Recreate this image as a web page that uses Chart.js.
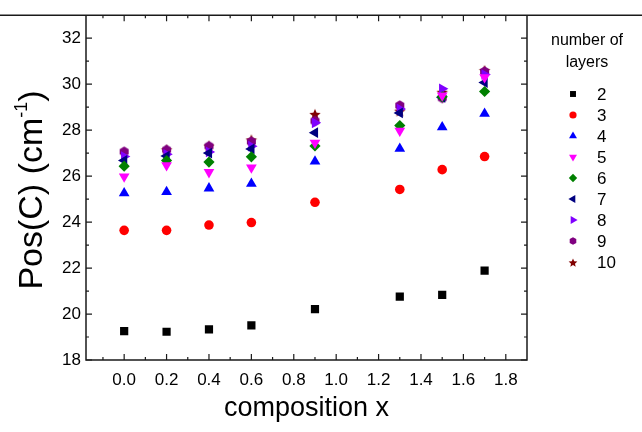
<!DOCTYPE html>
<html>
<head>
<meta charset="utf-8">
<script src="https://cdn.jsdelivr.net/npm/chart.js"></script>
<style>
  html, body { margin: 0; padding: 0; background: #fff; }
</style>
</head>
<body>
<canvas id="chart" width="642" height="432"></canvas>
<script>
// composition x of each measured sample
const compositionX = [0.0, 0.2, 0.4, 0.6, 0.9, 1.3, 1.5, 1.7];

// Pos(C) values (cm-1), one array per number of layers
const layers2 = [19.26, 19.23, 19.33, 19.51, 20.21, 20.76, 20.83, 21.89];
const layers3 = [23.64, 23.64, 23.87, 23.98, 24.86, 25.42, 26.28, 26.85];
const layers4 = [25.26, 25.31, 25.47, 25.67, 26.64, 27.19, 28.13, 28.72];
const layers5 = [25.98, 26.47, 26.17, 26.37, 27.45, 27.97, 29.5, 30.3];
const layers6 = [26.43, 26.68, 26.61, 26.84, 27.31, 28.2, 29.45, 29.68];
const layers7 = [26.68, 26.87, 27.0, 27.18, 27.89, 28.75, 29.42, 30.07];
const layers8 = [26.85, 26.95, 27.05, 27.3, 28.32, 28.92, 29.8, 30.42];
const layers9 = [27.06, 27.14, 27.3, 27.5, 28.4, 29.07, 29.4, 30.55];
const layers10 = [null, 27.17, 27.33, 27.6, 28.71, 28.85, 29.67, 30.62];

const layerNames = ['2', '3', '4', '5', '6', '7', '8', '9', '10'];
const layerValues = [layers2, layers3, layers4, layers5, layers6, layers7, layers8, layers9, layers10];

const FONT = '"Liberation Sans", Arial, sans-serif';

// hexagon and filled star do not exist as point styles, make little images
const makeHexagon = (color, r) => {
  const c = document.createElement('canvas');
  c.width = c.height = Math.ceil(2 * r + 2);
  const g = c.getContext('2d');
  g.fillStyle = color;
  g.beginPath();
  for (let i = 0; i < 6; i++) {
    const a = Math.PI / 6 + i * Math.PI / 3;
    g.lineTo(c.width / 2 + r * Math.cos(a), c.height / 2 + r * Math.sin(a));
  }
  g.closePath();
  g.fill();
  return c;
}

const makeStar = (color, r) => {
  const c = document.createElement('canvas');
  c.width = c.height = Math.ceil(2 * r + 2);
  const g = c.getContext('2d');
  g.fillStyle = color;
  g.beginPath();
  for (let i = 0; i < 10; i++) {
    const rr = i % 2 === 0 ? r : r * 0.45;
    const a = -Math.PI / 2 + i * Math.PI / 5;
    g.lineTo(c.width / 2 + rr * Math.cos(a), c.height / 2 + 1 + rr * Math.sin(a));
  }
  g.closePath();
  g.fill();
  return c;
}

const styles = [
  { color: '#000000', pointStyle: 'rect', rotation: 0, radius: 5.8 },
  { color: '#ff0000', pointStyle: 'circle', rotation: 0, radius: 4.8 },
  { color: '#0000ff', pointStyle: 'triangle', rotation: 0, radius: 6.2 },
  { color: '#ff00ff', pointStyle: 'triangle', rotation: 180, radius: 6.2 },
  { color: '#008000', pointStyle: 'rectRot', rotation: 0, radius: 5.6 },
  { color: '#000080', pointStyle: 'triangle', rotation: -90, radius: 6.2 },
  { color: '#8000ff', pointStyle: 'triangle', rotation: 90, radius: 6.2 },
  { color: '#800080', pointStyle: makeHexagon('#800080', 5.2), rotation: 0, radius: 5.2 },
  { color: '#800000', pointStyle: makeStar('#800000', 6), rotation: 0, radius: 6 }
];
const legendStyles = [
  { pointStyle: 'rect', radius: 4.2 },
  { pointStyle: 'circle', radius: 3.6 },
  { pointStyle: 'triangle', radius: 4.6 },
  { pointStyle: 'triangle', radius: 4.6 },
  { pointStyle: 'rectRot', radius: 4.2 },
  { pointStyle: 'triangle', radius: 4.6 },
  { pointStyle: 'triangle', radius: 4.6 },
  { pointStyle: makeHexagon('#800080', 3.8), radius: 3.8 },
  { pointStyle: makeStar('#800000', 4.6), radius: 4.6 }
];

const datasets = layerValues.map((vals, i) => ({
  label: layerNames[i],
  data: compositionX.map((x, j) => ({ x: x, y: vals[j] })).filter(p => p.y !== null),
  backgroundColor: styles[i].color,
  borderColor: styles[i].color,
  borderWidth: 0,
  pointStyle: styles[i].pointStyle,
  pointRotation: styles[i].rotation,
  pointRadius: styles[i].radius,
  pointHoverRadius: styles[i].radius,
  showLine: false
}));

// frame, inward ticks, axis titles and legend
const decorations = {
  id: 'decorations',
  afterDraw(chart) {
    const ctx = chart.ctx;
    const a = chart.chartArea;
    const xs = chart.scales.x;
    const ys = chart.scales.y;
    ctx.save();
    ctx.strokeStyle = '#1a1a1a';
    ctx.lineWidth = 1.5;
    ctx.beginPath();
    ctx.moveTo(0, a.top);
    ctx.lineTo(642, a.top);
    ctx.moveTo(a.left, a.top);
    ctx.lineTo(a.left, a.bottom);
    ctx.lineTo(a.right, a.bottom);
    ctx.lineTo(a.right, a.top);
    ctx.stroke();

    ctx.lineWidth = 1.2;
    ctx.beginPath();
    const xMajor = xs.ticks.map(t => t.value);
    const xMinor = [];
    xMajor.forEach(v => [v - 0.1, v + 0.1].forEach(m => {
      if (m > xs.min && m < xs.max && !xMinor.some(o => Math.abs(o - m) < 1e-6)) xMinor.push(m);
    }));
    xMajor.forEach(v => {
      const p = xs.getPixelForValue(v);
      ctx.moveTo(p, a.bottom); ctx.lineTo(p, a.bottom - 6);
      ctx.moveTo(p, a.top); ctx.lineTo(p, a.top + 6);
    });
    xMinor.forEach(v => {
      const p = xs.getPixelForValue(v);
      ctx.moveTo(p, a.bottom); ctx.lineTo(p, a.bottom - 3);
      ctx.moveTo(p, a.top); ctx.lineTo(p, a.top + 3);
    });
    const yMajor = ys.ticks.map(t => t.value);
    const yMinor = [];
    yMajor.forEach(v => [v - 1, v + 1].forEach(m => {
      if (m > ys.min && m < ys.max && !yMinor.includes(m)) yMinor.push(m);
    }));
    yMajor.forEach(v => {
      const p = ys.getPixelForValue(v);
      ctx.moveTo(a.left, p); ctx.lineTo(a.left + 6, p);
      ctx.moveTo(a.right, p); ctx.lineTo(a.right - 6, p);
    });
    yMinor.forEach(v => {
      const p = ys.getPixelForValue(v);
      ctx.moveTo(a.left, p); ctx.lineTo(a.left + 3, p);
      ctx.moveTo(a.right, p); ctx.lineTo(a.right - 3, p);
    });
    ctx.stroke();

    ctx.fillStyle = '#000';
    // x title
    ctx.font = '27px ' + FONT;
    ctx.textAlign = 'center';
    ctx.textBaseline = 'middle';
    ctx.fillText('composition x', (a.left + a.right) / 2, 409);

    // y title with superscript
    ctx.save();
    ctx.translate(33, 190);
    ctx.rotate(-Math.PI / 2);
    ctx.textAlign = 'left';
    ctx.textBaseline = 'middle';
    const big = '34px ' + FONT;
    const small = '18px ' + FONT;
    ctx.font = big;
    const w1 = ctx.measureText('Pos(C) (cm').width;
    const w3 = ctx.measureText(')').width;
    ctx.font = small;
    const w2 = ctx.measureText('-1').width;
    let x0 = -(w1 + w2 + w3) / 2;
    ctx.font = big;
    ctx.fillText('Pos(C) (cm', x0, 0);
    ctx.font = small;
    ctx.fillText('-1', x0 + w1, -11);
    ctx.font = big;
    ctx.fillText(')', x0 + w1 + w2, 0);
    ctx.restore();

    // legend
    ctx.font = '16px ' + FONT;
    ctx.textAlign = 'center';
    ctx.fillText('number of', 587, 41);
    ctx.fillText('layers', 587, 63);
    ctx.font = '17px ' + FONT;
    ctx.textAlign = 'left';
    chart.data.datasets.forEach((ds, i) => {
      const y = 94 + i * 21;
      ctx.fillStyle = ds.backgroundColor;
      Chart.helpers.drawPoint(ctx, {
        pointStyle: legendStyles[i].pointStyle,
        rotation: ds.pointRotation,
        radius: legendStyles[i].radius,
        borderWidth: 0
      }, 573, y);
      ctx.fillStyle = '#000';
      ctx.fillText(ds.label, 597, y + 1);
    });
    ctx.restore();
  }
};

new Chart(document.getElementById('chart'), {
  type: 'scatter',
  data: { datasets: datasets },
  options: {
    responsive: false,
    animation: false,
    layout: { padding: { left: 0, right: 115, top: 3, bottom: 0 } },
    plugins: {
      legend: { display: false },
      tooltip: { enabled: false }
    },
    scales: {
      x: {
        type: 'linear',
        min: -0.18,
        max: 1.9,
        grid: { display: false, drawTicks: false },
        border: { display: false },
        ticks: {
          stepSize: 0.2,
          includeBounds: false,
          padding: 10,
          color: '#000',
          font: { family: FONT, size: 17 },
          callback: (v) => v.toFixed(1)
        },
        afterFit: (s) => { s.height = 72; }
      },
      y: {
        type: 'linear',
        min: 18,
        max: 33,
        grid: { display: false, drawTicks: false },
        border: { display: false },
        ticks: {
          stepSize: 2,
          includeBounds: false,
          padding: 5,
          color: '#000',
          font: { family: FONT, size: 17 }
        },
        afterFit: (s) => { s.width = 86; }
      }
    }
  },
  plugins: [decorations]
});
</script>
</body>
</html>
